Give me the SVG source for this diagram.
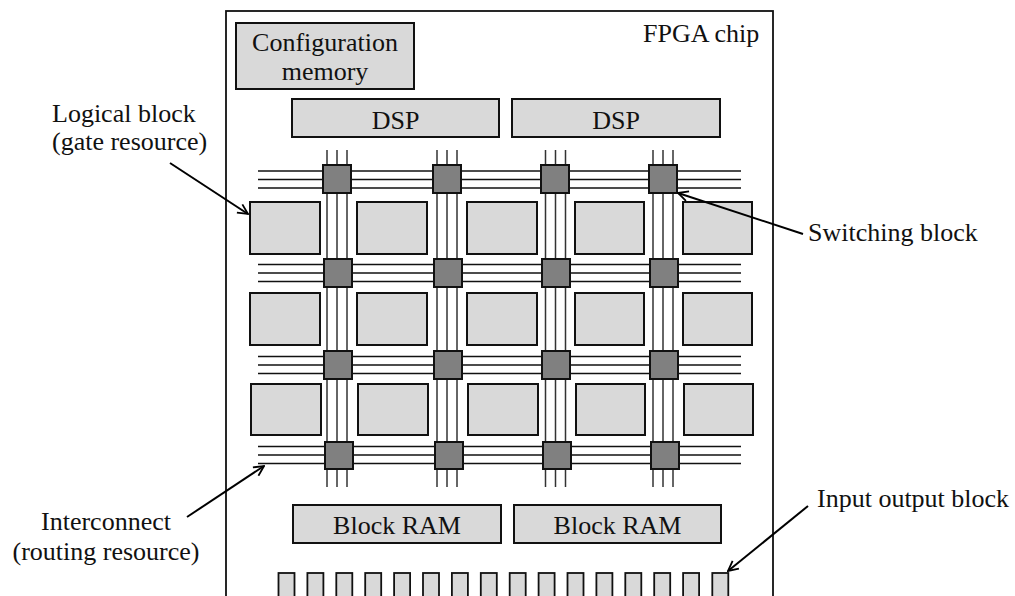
<svg xmlns="http://www.w3.org/2000/svg" width="1015" height="596" viewBox="0 0 1015 596">
<style>
text{font-family:"Liberation Serif","Times New Roman",serif;font-size:26px;fill:#111}
.box{fill:#d9d9d9;stroke:#111;stroke-width:2}
.sw{fill:#808080;stroke:#111;stroke-width:2}
.hl{stroke:#111;stroke-width:1.3}
.vl{stroke:#333;stroke-width:1.5}
.io{fill:#d9d9d9;stroke:#111;stroke-width:1.8}
.arr{stroke:#000;stroke-width:2;fill:none;marker-end:url(#ah)}
.c{text-anchor:middle}
</style>
<defs>
<marker id="ah" viewBox="0 0 12 12" refX="11" refY="6" markerWidth="12" markerHeight="12" markerUnits="userSpaceOnUse" orient="auto">
<path d="M1,1 L11,6 L1,11" fill="none" stroke="#000" stroke-width="1.8"/>
</marker>
</defs>
<rect id="chip" x="226" y="11" width="547" height="600" fill="#fff" stroke="#111" stroke-width="1.8"/>
<text x="643" y="42">FPGA chip</text>
<g id="config"><rect class="box" x="236" y="23" width="178" height="66"/><text class="c" x="325" y="51">Configuration</text><text class="c" x="325" y="80">memory</text></g>
<g id="dsp1"><rect class="box" x="292" y="99" width="207" height="38"/><text class="c" x="395.5" y="129">DSP</text></g>
<g id="dsp2"><rect class="box" x="512" y="99" width="208" height="38"/><text class="c" x="616" y="129">DSP</text></g>
<g id="routing">
<g class="vl">
<line x1="327" y1="150" x2="327" y2="487"/><line x1="337" y1="150" x2="337" y2="487"/><line x1="347" y1="150" x2="347" y2="487"/>
<line x1="437" y1="150" x2="437" y2="487"/><line x1="447" y1="150" x2="447" y2="487"/><line x1="457" y1="150" x2="457" y2="487"/>
<line x1="545.5" y1="150" x2="545.5" y2="487"/><line x1="555.5" y1="150" x2="555.5" y2="487"/><line x1="565.5" y1="150" x2="565.5" y2="487"/>
<line x1="653" y1="150" x2="653" y2="487"/><line x1="663" y1="150" x2="663" y2="487"/><line x1="673" y1="150" x2="673" y2="487"/>
</g>
<g class="hl">
<line x1="258" y1="171" x2="741" y2="171"/><line x1="258" y1="179.5" x2="741" y2="179.5"/><line x1="258" y1="188" x2="741" y2="188"/>
<line x1="258" y1="264.5" x2="741" y2="264.5"/><line x1="258" y1="273" x2="741" y2="273"/><line x1="258" y1="281.5" x2="741" y2="281.5"/>
<line x1="258" y1="356.5" x2="741" y2="356.5"/><line x1="258" y1="365" x2="741" y2="365"/><line x1="258" y1="373.5" x2="741" y2="373.5"/>
<line x1="258" y1="446.5" x2="741" y2="446.5"/><line x1="258" y1="455" x2="741" y2="455"/><line x1="258" y1="463.5" x2="741" y2="463.5"/>
</g>
</g>
<g id="switches">
<rect class="sw" x="323" y="165" width="28" height="28"/><rect class="sw" x="433" y="165" width="28" height="28"/><rect class="sw" x="541" y="165" width="28" height="28"/><rect class="sw" x="649" y="165" width="28" height="28"/>
<rect class="sw" x="324" y="259" width="28" height="28"/><rect class="sw" x="434" y="259" width="28" height="28"/><rect class="sw" x="542" y="259" width="28" height="28"/><rect class="sw" x="650" y="259" width="28" height="28"/>
<rect class="sw" x="324" y="351" width="28" height="28"/><rect class="sw" x="434" y="351" width="28" height="28"/><rect class="sw" x="542" y="351" width="28" height="28"/><rect class="sw" x="650" y="351" width="28" height="28"/>
<rect class="sw" x="325" y="442" width="28" height="27"/><rect class="sw" x="435" y="442" width="28" height="27"/><rect class="sw" x="543" y="442" width="28" height="27"/><rect class="sw" x="651" y="442" width="28" height="27"/>
</g>
<g id="logic">
<rect class="box" x="250" y="202" width="70" height="52"/><rect class="box" x="357" y="202" width="70" height="52"/><rect class="box" x="467" y="202" width="70" height="52"/><rect class="box" x="575" y="202" width="69" height="52"/><rect class="box" x="683" y="202" width="69" height="52"/>
<rect class="box" x="250" y="293" width="70" height="52"/><rect class="box" x="357" y="293" width="70" height="52"/><rect class="box" x="467" y="293" width="70" height="52"/><rect class="box" x="575" y="293" width="69" height="52"/><rect class="box" x="683" y="293" width="69" height="52"/>
<rect class="box" x="251" y="384" width="70" height="51"/><rect class="box" x="358" y="384" width="70" height="51"/><rect class="box" x="468" y="384" width="70" height="51"/><rect class="box" x="576" y="384" width="69" height="51"/><rect class="box" x="684" y="384" width="69" height="51"/>
</g>
<g id="bram1"><rect class="box" x="293" y="505" width="208" height="38"/><text class="c" x="397" y="534">Block RAM</text></g>
<g id="bram2"><rect class="box" x="514" y="505" width="207" height="38"/><text class="c" x="617.5" y="534">Block RAM</text></g>
<g id="io">
<rect class="io" x="278.5" y="573" width="16" height="30"/><rect class="io" x="307.4" y="573" width="16" height="30"/><rect class="io" x="336.3" y="573" width="16" height="30"/><rect class="io" x="365.2" y="573" width="16" height="30"/>
<rect class="io" x="394.1" y="573" width="16" height="30"/><rect class="io" x="423" y="573" width="16" height="30"/><rect class="io" x="451.9" y="573" width="16" height="30"/><rect class="io" x="480.8" y="573" width="16" height="30"/>
<rect class="io" x="509.7" y="573" width="16" height="30"/><rect class="io" x="538.6" y="573" width="16" height="30"/><rect class="io" x="567.5" y="573" width="16" height="30"/><rect class="io" x="596.4" y="573" width="16" height="30"/>
<rect class="io" x="625.3" y="573" width="16" height="30"/><rect class="io" x="654.2" y="573" width="16" height="30"/><rect class="io" x="683.1" y="573" width="16" height="30"/><rect class="io" x="712.3" y="573" width="16" height="30"/>
</g>
<g id="labels">
<text x="52" y="122">Logical block</text><text x="52" y="150">(gate resource)</text>
<text class="c" x="106" y="530">Interconnect</text><text class="c" x="106" y="560">(routing resource)</text>
<text x="808" y="241">Switching block</text>
<text x="817" y="507">Input output block</text>
</g>
<g id="connectors">
<line class="arr" x1="170" y1="163" x2="248" y2="214"/>
<line class="arr" x1="803" y1="234" x2="678" y2="193"/>
<line class="arr" x1="187" y1="517" x2="264" y2="466"/>
<line class="arr" x1="808" y1="506" x2="728" y2="571"/>
</g>
</svg>
